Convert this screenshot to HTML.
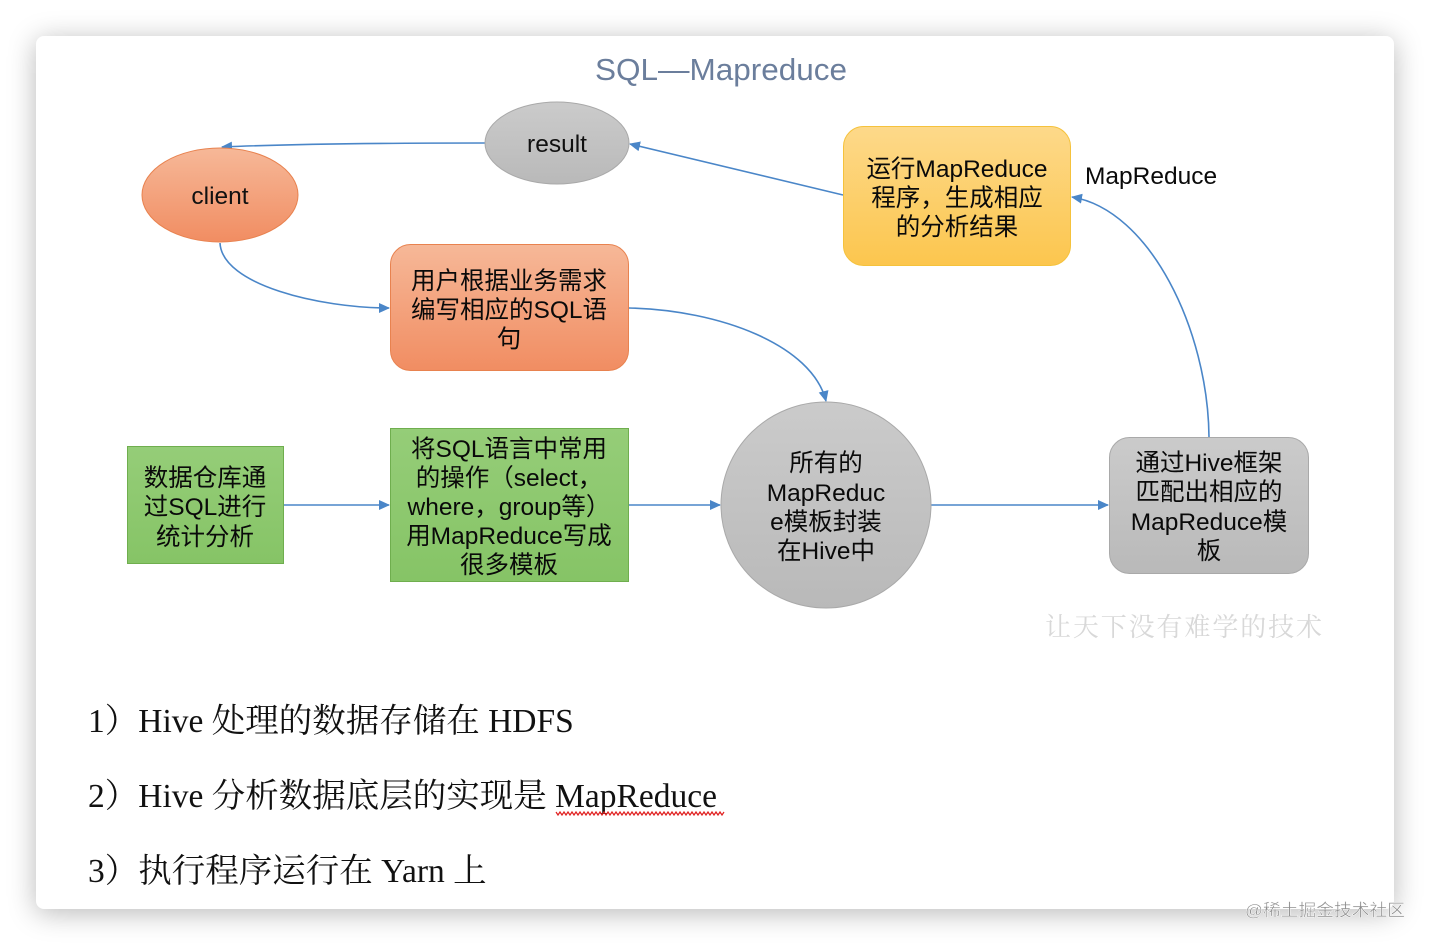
<!DOCTYPE html>
<html><head><meta charset="utf-8">
<style>
html,body{margin:0;padding:0;background:#fff;width:1430px;height:946px;overflow:hidden;}
.card{position:absolute;left:36px;top:36px;width:1358px;height:873px;background:#fff;border-radius:8px;box-shadow:0 4px 28px rgba(0,0,0,0.28);}
svg{position:absolute;left:0;top:0;}
</style></head><body>
<div class="card"></div>
<svg width="1430" height="946" viewBox="0 0 1430 946" xmlns="http://www.w3.org/2000/svg">
<defs>
<linearGradient id="gOr" x1="0" y1="0" x2="0" y2="1"><stop offset="0" stop-color="#f6b898"/><stop offset="1" stop-color="#f18d62"/></linearGradient>
<linearGradient id="gYe" x1="0" y1="0" x2="0" y2="1"><stop offset="0" stop-color="#fdd98a"/><stop offset="1" stop-color="#fcc64e"/></linearGradient>
<linearGradient id="gGr" x1="0" y1="0" x2="0" y2="1"><stop offset="0" stop-color="#95cd78"/><stop offset="1" stop-color="#86c466"/></linearGradient>
<linearGradient id="gGy" x1="0" y1="0" x2="0" y2="1"><stop offset="0" stop-color="#cbcbcb"/><stop offset="1" stop-color="#b9b9b9"/></linearGradient>
<marker id="ar" markerWidth="12" markerHeight="12" refX="10" refY="5" orient="auto" markerUnits="userSpaceOnUse">
<path d="M0,0 L11,5 L0,10 z" fill="#4a86c8"/></marker>
</defs>

<text x="721" y="80" text-anchor="middle" font-family="Liberation Sans, sans-serif" font-size="31" fill="#6b7e9c" textLength="252" lengthAdjust="spacingAndGlyphs">SQL—Mapreduce</text>

<!-- connectors -->
<g fill="none" stroke="#4a86c8" stroke-width="1.6">
<path d="M485,143 C380,143 290,144 222,147" marker-end="url(#ar)"/>
<path d="M843,195 L630,144" marker-end="url(#ar)"/>
<path d="M220,243 C222,285 320,308 389,308" marker-end="url(#ar)"/>
<path d="M629,308 C720,310 812,345 826,401" marker-end="url(#ar)"/>
<path d="M284,505 L389,505" marker-end="url(#ar)"/>
<path d="M629,505 L720,505" marker-end="url(#ar)"/>
<path d="M931,505 L1108,505" marker-end="url(#ar)"/>
<path d="M1209,437 C1208,330 1150,210 1072,197" marker-end="url(#ar)"/>
</g>

<!-- nodes -->
<ellipse cx="220" cy="195" rx="78" ry="47" fill="url(#gOr)" stroke="#e8824f" stroke-width="1"/>
<text x="220" y="204" text-anchor="middle" font-family="Liberation Sans, sans-serif" font-size="24.5" fill="#111">client</text>

<ellipse cx="557" cy="143" rx="72" ry="41" fill="url(#gGy)" stroke="#a9a9a9" stroke-width="1"/>
<text x="557" y="152" text-anchor="middle" font-family="Liberation Sans, sans-serif" font-size="24.5" fill="#111">result</text>

<g font-family="Liberation Sans, Noto Sans CJK SC, sans-serif" font-size="24.5" fill="#0a0a0a" text-anchor="middle">
<rect x="390.5" y="244.5" width="238" height="126" rx="20" fill="url(#gOr)" stroke="#e8824f"/>
<text x="509" y="289">用户根据业务需求</text>
<text x="509" y="318">编写相应的SQL语</text>
<text x="509" y="347">句</text>

<rect x="843.5" y="126.5" width="227" height="139" rx="20" fill="url(#gYe)" stroke="#f5c23c"/>
<text x="957" y="177">运行MapReduce</text>
<text x="957" y="206">程序，生成相应</text>
<text x="957" y="235">的分析结果</text>

<text x="1085" y="184" text-anchor="start">MapReduce</text>

<rect x="127.5" y="446.5" width="156" height="117" fill="url(#gGr)" stroke="#6fae4e"/>
<text x="205" y="486">数据仓库通</text>
<text x="205" y="515">过SQL进行</text>
<text x="205" y="545">统计分析</text>

<rect x="390.5" y="428.5" width="238" height="153" fill="url(#gGr)" stroke="#6fae4e"/>
<text x="509" y="457">将SQL语言中常用</text>
<text x="509" y="486">的操作（select，</text>
<text x="509" y="515">where，group等）</text>
<text x="509" y="544">用MapReduce写成</text>
<text x="509" y="573">很多模板</text>

<ellipse cx="826" cy="505" rx="105" ry="103" fill="url(#gGy)" stroke="#a9a9a9"/>
<text x="826" y="471">所有的</text>
<text x="826" y="501">MapReduc</text>
<text x="826" y="530">e模板封装</text>
<text x="826" y="559">在Hive中</text>

<rect x="1109.5" y="437.5" width="199" height="136" rx="20" fill="url(#gGy)" stroke="#a9a9a9"/>
<text x="1209" y="471">通过Hive框架</text>
<text x="1209" y="500">匹配出相应的</text>
<text x="1209" y="530">MapReduce模</text>
<text x="1209" y="559">板</text>
</g>

<text x="1045" y="636" font-family="Noto Serif CJK SC, serif" font-size="26" fill="#d8d8d8" textLength="277" lengthAdjust="spacing">让天下没有难学的技术</text>

<!-- bottom text -->
<g font-family="Liberation Serif, Noto Serif CJK SC, serif" font-size="33.5" fill="#111">
<text x="88" y="732">1）Hive 处理的数据存储在 HDFS</text>
<text x="88" y="807">2）Hive 分析数据底层的实现是 MapReduce</text>
<text x="88" y="882">3）执行程序运行在 Yarn 上</text>
</g>
<path d="M556,812 l2,3 l2,-3 l2,3 l2,-3 l2,3 l2,-3 l2,3 l2,-3 l2,3 l2,-3 l2,3 l2,-3 l2,3 l2,-3 l2,3 l2,-3 l2,3 l2,-3 l2,3 l2,-3 l2,3 l2,-3 l2,3 l2,-3 l2,3 l2,-3 l2,3 l2,-3 l2,3 l2,-3 l2,3 l2,-3 l2,3 l2,-3 l2,3 l2,-3 l2,3 l2,-3 l2,3 l2,-3 l2,3 l2,-3 l2,3 l2,-3 l2,3 l2,-3 l2,3 l2,-3 l2,3 l2,-3 l2,3 l2,-3 l2,3 l2,-3 l2,3 l2,-3 l2,3 l2,-3 l2,3 l2,-3 l2,3 l2,-3 l2,3 l2,-3 l2,3 l2,-3 l2,3 l2,-3 l2,3 l2,-3 l2,3 l2,-3 l2,3 l2,-3 l2,3 l2,-3 l2,3 l2,-3 l2,3 l2,-3 l2,3 l2,-3 l2,3 l2,-3" fill="none" stroke="#e02020" stroke-width="1.2"/>

<text x="1245" y="916" font-family="Liberation Sans, Noto Sans CJK SC, sans-serif" font-size="17" fill="#8a8a8a" stroke="#fff" stroke-width="0.4" textLength="160" lengthAdjust="spacingAndGlyphs">@稀土掘金技术社区</text>
</svg>
</body></html>
